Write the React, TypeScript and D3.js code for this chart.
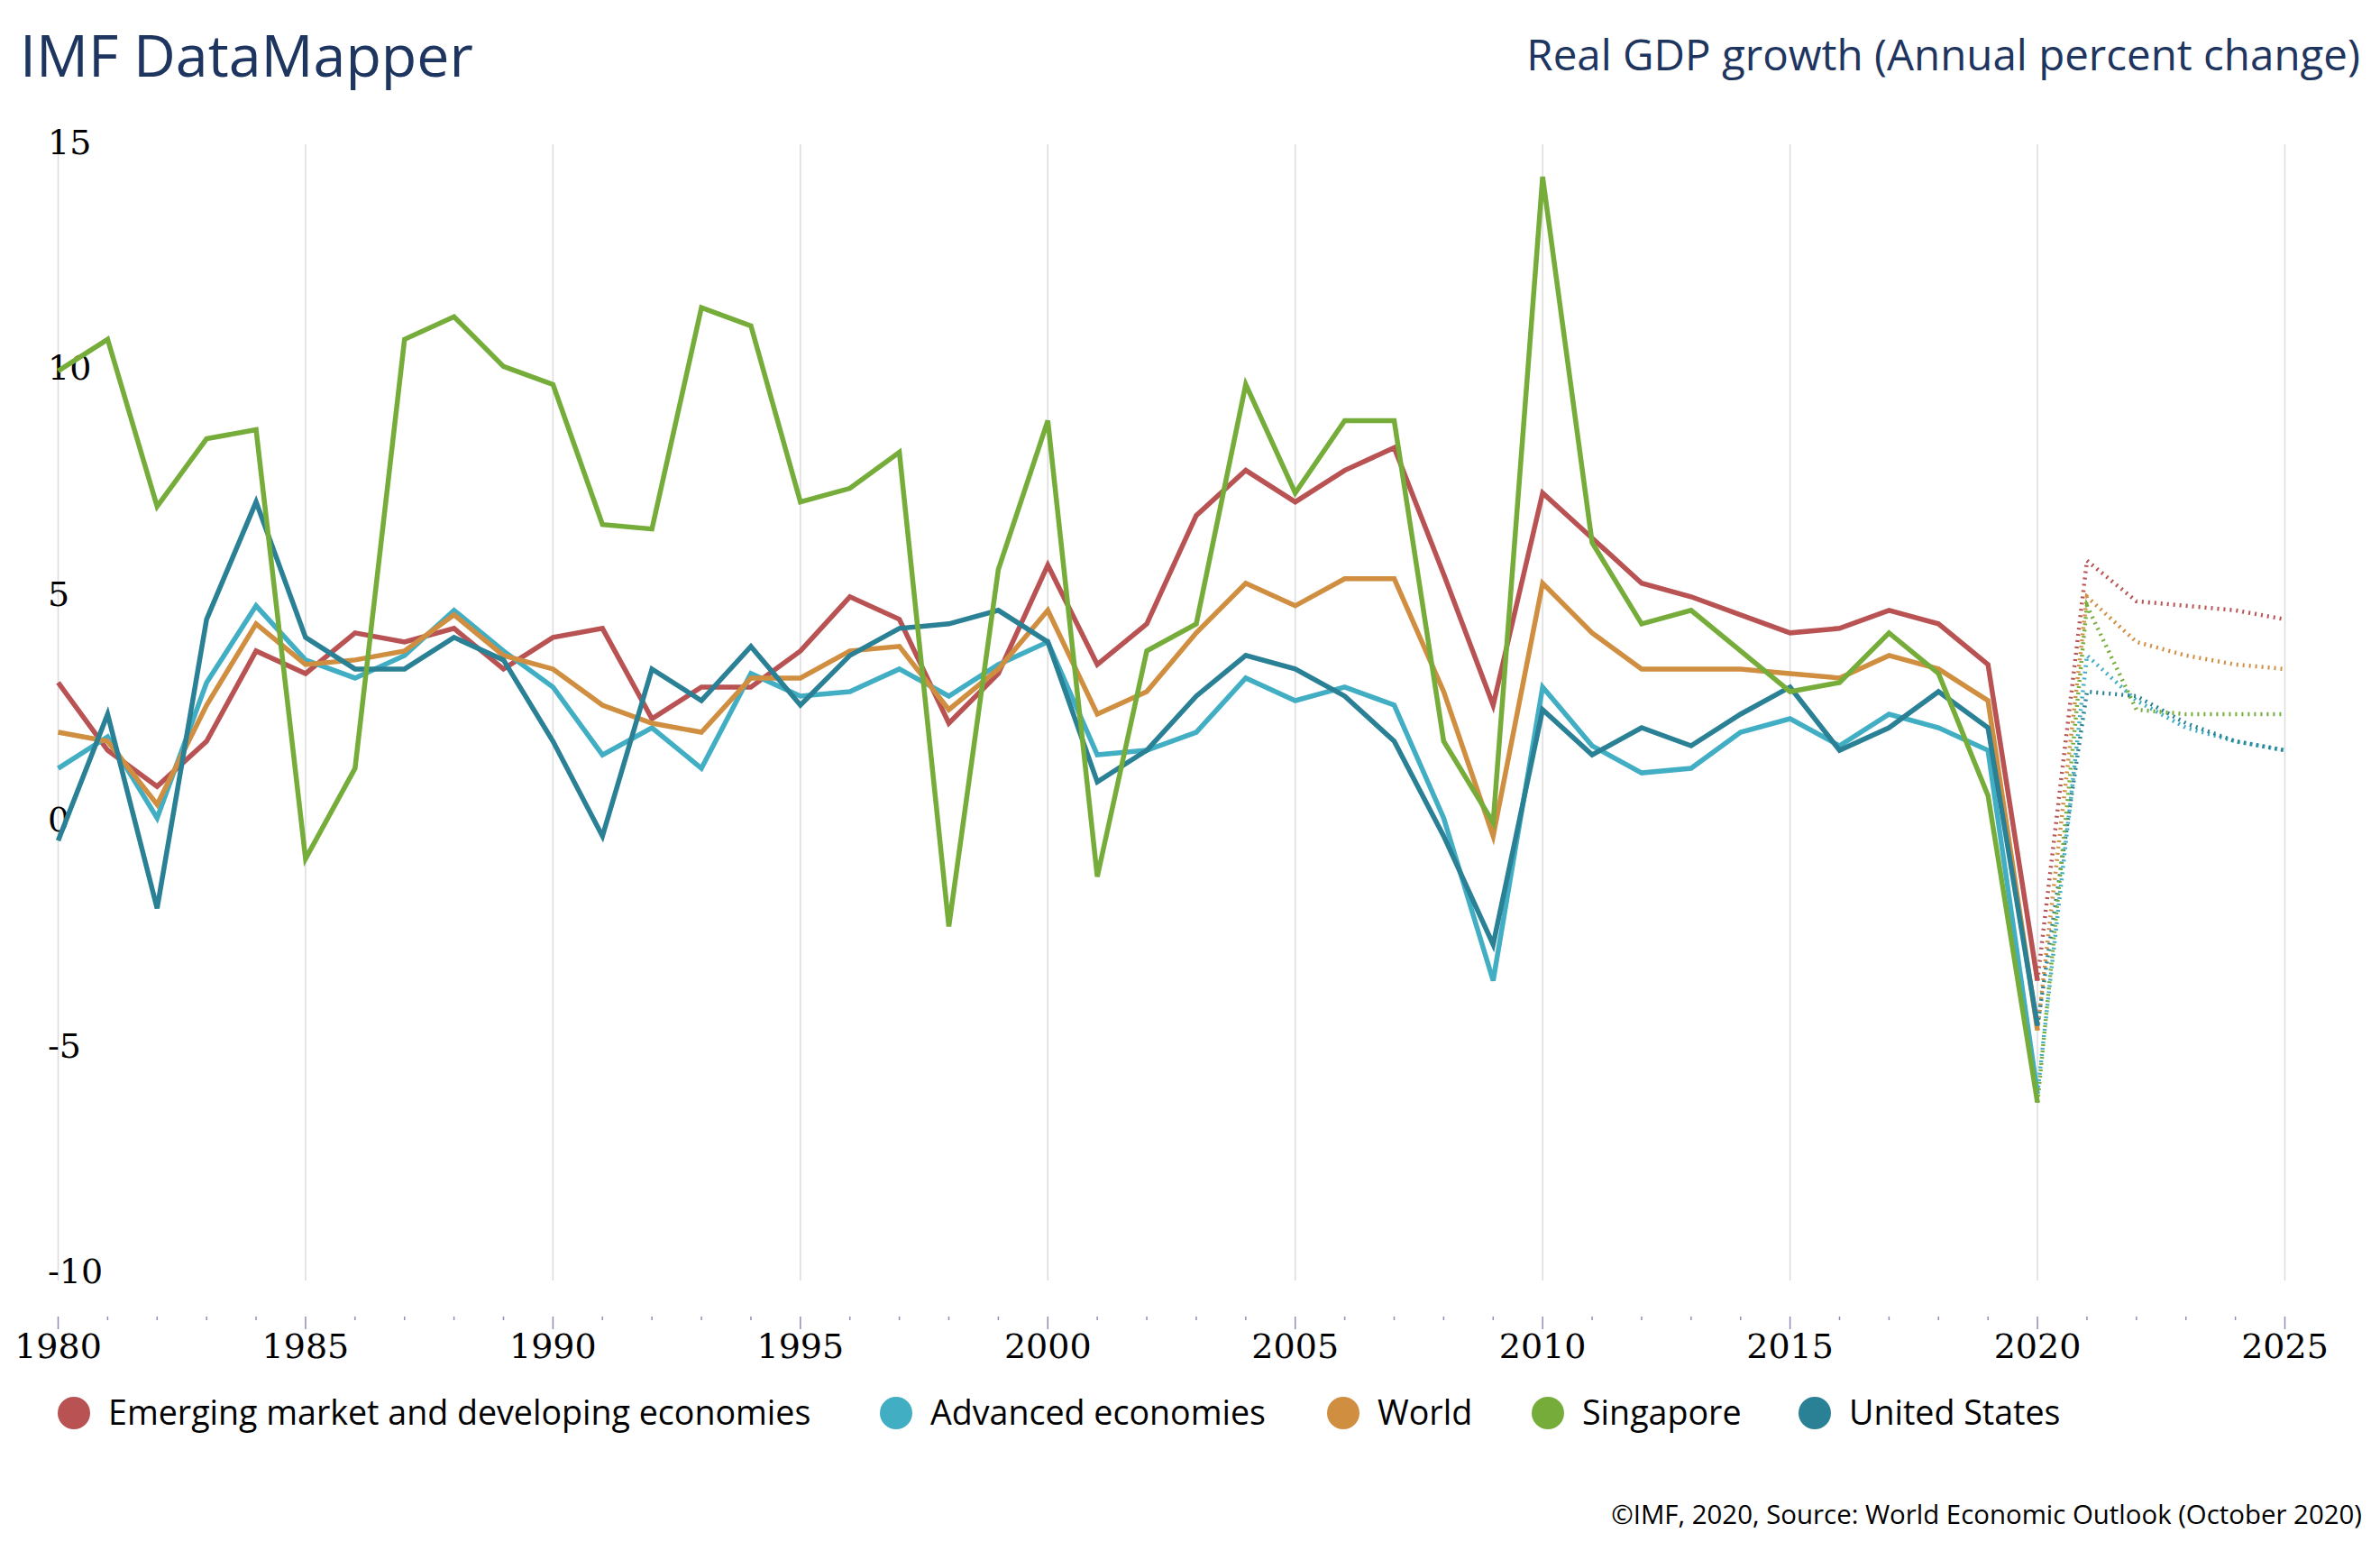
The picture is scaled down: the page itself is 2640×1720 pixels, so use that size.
import React, { useRef, useEffect } from 'react';
import * as d3 from 'd3';

const years = d3.range(1980, 2026);

const emde = [
  3.3, 1.8, 1.0, 2.0, 4.0, 3.5, 4.4, 4.2, 4.5, 3.6,
  4.3, 4.5, 2.5, 3.2, 3.2, 4.0, 5.2, 4.7, 2.4, 3.5,
  5.9, 3.7, 4.6, 7.0, 8.0, 7.3, 8.0, 8.5, 5.7, 2.8,
  7.5, 6.5, 5.5, 5.2, 4.8, 4.4, 4.5, 4.9, 4.6, 3.7,
  -3.3, 6.0, 5.1, 5.0, 4.9, 4.7,
];
const advanced = [
  1.4, 2.1, 0.3, 3.3, 5.0, 3.8, 3.4, 3.9, 4.9, 4.0,
  3.2, 1.7, 2.3, 1.4, 3.5, 3.0, 3.1, 3.6, 3.0, 3.7,
  4.2, 1.7, 1.8, 2.2, 3.4, 2.9, 3.2, 2.8, 0.3, -3.3,
  3.2, 1.9, 1.3, 1.4, 2.2, 2.5, 1.9, 2.6, 2.3, 1.8,
  -5.8, 3.9, 2.9, 2.3, 2.0, 1.8,
];
const world = [
  2.2, 2.0, 0.6, 2.8, 4.6, 3.7, 3.8, 4.0, 4.8, 3.9,
  3.6, 2.8, 2.4, 2.2, 3.4, 3.4, 4.0, 4.1, 2.7, 3.6,
  4.9, 2.6, 3.1, 4.4, 5.5, 5.0, 5.6, 5.6, 3.1, -0.1,
  5.5, 4.4, 3.6, 3.6, 3.6, 3.5, 3.4, 3.9, 3.6, 2.9,
  -4.4, 5.2, 4.2, 3.9, 3.7, 3.6,
];
const singapore = [
  10.2, 10.9, 7.2, 8.7, 8.9, -0.6, 1.4, 10.9, 11.4, 10.3,
  9.9, 6.8, 6.7, 11.6, 11.2, 7.3, 7.6, 8.4, -2.1, 5.8,
  9.1, -1.0, 4.0, 4.6, 9.9, 7.5, 9.1, 9.1, 2.0, 0.2,
  14.5, 6.4, 4.6, 4.9, 4.0, 3.1, 3.3, 4.4, 3.5, 0.8,
  -6.0, 5.0, 2.7, 2.6, 2.6, 2.6,
];
const unitedStates = [
  -0.2, 2.6, -1.7, 4.7, 7.3, 4.3, 3.6, 3.6, 4.3, 3.8,
  2.0, -0.1, 3.6, 2.9, 4.1, 2.8, 3.9, 4.5, 4.6, 4.9,
  4.2, 1.1, 1.8, 3.0, 3.9, 3.6, 3.0, 2.0, -0.1, -2.5,
  2.7, 1.7, 2.3, 1.9, 2.6, 3.2, 1.8, 2.3, 3.1, 2.3,
  -4.3, 3.1, 3.0, 2.4, 2.0, 1.8,
];

const seriesNames = [
  'Emerging market and developing economies',
  'Advanced economies',
  'World',
  'Singapore',
  'United States',
];
const seriesColors = ['#b85253', '#42aec4', '#d08e40', '#76ad3a', '#2a8094'];
const seriesValues = [emde, advanced, world, singapore, unitedStates];
// draw order: Singapore ends up on top
const drawOrder = [0, 1, 2, 4, 3];

const yTicks = [15, 10, 5, 0, -5, -10];
const xTicks = [1980, 1985, 1990, 1995, 2000, 2005, 2010, 2015, 2020, 2025];
const lastActual = 2020;

const W = 2640;
const H = 1720;
const sans = '"Open Sans", "Noto Sans", sans-serif';
const serif = '"DejaVu Serif", serif';
const navy = '#1e3560';
// legend swatch centres, as laid out in the original
const legendX = [82, 994, 1490, 1717, 2013];

export default function App() {
  const svgRef = useRef<SVGSVGElement>(null);

  useEffect(() => {
    const svg = d3.select(svgRef.current);
    svg.selectAll('*').remove();

    const x = d3.scaleLinear().domain([1980, 2025]).range([64.5, 2534.5]);
    const y = d3.scaleLinear().domain([-10, 15]).range([1423, 171]);

    // titles
    svg.append('text')
      .attr('x', 22).attr('y', 85)
      .attr('font-family', sans).attr('font-size', 64.5)
      .attr('fill', navy)
      .text('IMF DataMapper');
    svg.append('text')
      .attr('x', 2618).attr('y', 78)
      .attr('text-anchor', 'end')
      .attr('font-family', sans).attr('font-size', 47.5)
      .attr('fill', navy)
      .text('Real GDP growth (Annual percent change)');

    // vertical grid
    svg.append('g')
      .selectAll('line')
      .data(xTicks)
      .enter()
      .append('line')
      .attr('x1', d => x(d)).attr('x2', d => x(d))
      .attr('y1', 160).attr('y2', 1420)
      .attr('stroke', '#dcdcdc').attr('stroke-width', 1.5);

    // y labels
    svg.append('g')
      .selectAll('text')
      .data(yTicks)
      .enter()
      .append('text')
      .attr('x', 53).attr('y', d => y(d))
      .attr('font-family', serif).attr('font-size', 38)
      .attr('fill', '#000')
      .text(d => String(d));

    // x ticks
    svg.append('g')
      .selectAll('line')
      .data(years)
      .enter()
      .append('line')
      .attr('x1', d => x(d)).attr('x2', d => x(d))
      .attr('y1', 1460)
      .attr('y2', d => (d % 5 === 0 ? 1474 : 1464))
      .attr('stroke', '#8e8eb4').attr('stroke-width', 1.5);

    svg.append('g')
      .selectAll('text')
      .data(xTicks)
      .enter()
      .append('text')
      .attr('x', d => x(d)).attr('y', 1506)
      .attr('text-anchor', 'middle')
      .attr('font-family', serif).attr('font-size', 38)
      .attr('fill', '#000')
      .text(d => String(d));

    // lines
    const line = d3.line<[number, number]>()
      .x(d => x(d[0]))
      .y(d => y(d[1]));

    const lines = svg.append('g');
    drawOrder.forEach(i => {
      const pts: [number, number][] = years.map((yr, j) => [yr, seriesValues[i][j]]);
      const actual = pts.filter(p => p[0] <= lastActual);
      const proj = pts.filter(p => p[0] >= lastActual);
      lines.append('path')
        .attr('d', line(proj))
        .attr('fill', 'none')
        .attr('stroke', seriesColors[i])
        .attr('stroke-width', 4.5)
        .attr('stroke-dasharray', '2 5');
      lines.append('path')
        .attr('d', line(actual))
        .attr('fill', 'none')
        .attr('stroke', seriesColors[i])
        .attr('stroke-width', 5.5)
        .attr('stroke-linejoin', 'miter');
    });

    // legend
    const legend = svg.append('g');
    seriesNames.forEach((name, i) => {
      legend.append('circle')
        .attr('cx', legendX[i]).attr('cy', 1567).attr('r', 18)
        .attr('fill', seriesColors[i]);
      legend.append('text')
        .attr('x', legendX[i] + 38).attr('y', 1580)
        .attr('font-family', sans).attr('font-size', 37.6)
        .attr('fill', '#000')
        .text(name);
    });

    // source
    svg.append('text')
      .attr('x', 2620).attr('y', 1690)
      .attr('text-anchor', 'end')
      .attr('font-family', sans).attr('font-size', 29.4)
      .attr('fill', '#000')
      .text('©IMF, 2020, Source: World Economic Outlook (October 2020)');
  }, []);

  return (
    <svg
      ref={svgRef}
      width={W}
      height={H}
      style={{ position: 'absolute', left: 0, top: 0, background: '#fff' }}
    />
  );
}
